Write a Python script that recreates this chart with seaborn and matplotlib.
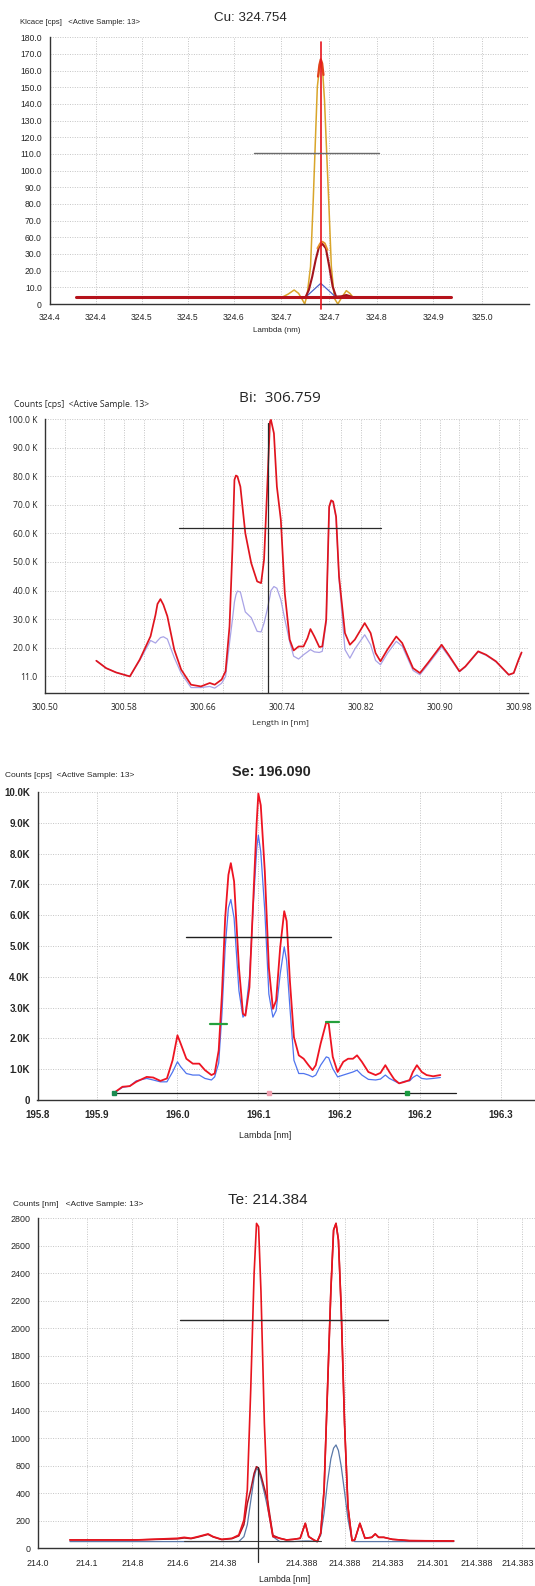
import numpy as np
import pandas as pd
import seaborn as sns
import matplotlib.pyplot as plt
from matplotlib.ticker import FixedLocator, FixedFormatter, MultipleLocator
from matplotlib.transforms import ScaledTranslation

# ---------------- Cu: 324.754 (x in tick-slot units, y in axis units) ----------------
cu_tick_pos = [0, 1, 2, 3, 4, 5.03, 6.07, 7.1, 8.33, 9.4]
cu_tick_labels = ['324.4', '324.4', '324.5', '324.5', '324.6', '324.7', '324.7', '324.8', '324.9', '325.0']
cu_minor_pos = [0.26, 1.52, 2.48, 3.48, 4.44, 5.52, 6.7, 7.7, 8.85, 9.89]
cu_ytick_pos = [0, 10, 20, 30, 40, 50, 60, 70, 80, 90, 100, 110, 120, 130, 140, 150, 160]
cu_ytick_labels = ['0', '10.0', '20.0', '30.0', '60.0', '70.0', '80.0', '90.0', '100.0',
                   '110.0', '120.0', '130.0', '140.0', '150.0', '160.0', '170.0', '180.0']

cu_gold_x = [5.074, 5.185, 5.311, 5.407, 5.481, 5.541, 5.593, 5.667, 5.726, 5.778, 5.815,
             5.852, 5.889, 5.933, 5.970, 6.015, 6.067, 6.119, 6.185, 6.259, 6.333, 6.444, 6.519, 6.593]
cu_gold_y = [4.4, 6.0, 8.4, 6.4, 3.0, 0.0, 5.4, 22.4, 62.4, 102.4, 130.4,
             139.4, 144.4, 138.4, 122.4, 92.4, 58.4, 22.4, 3.4, 0.0, 3.4, 8.0, 6.4, 4.0]
cu_dark_x = [5.556, 5.630, 5.704, 5.778, 5.852, 5.926, 6.0, 6.074, 6.148, 6.222, 6.333, 6.444, 6.556]
cu_dark_y = [4.0, 8.4, 16.4, 26.4, 34.4, 36.0, 33.4, 22.4, 10.4, 4.4, 4.6, 5.4, 4.4]
cu_blue_x = [5.556, 5.889, 6.222]
cu_blue_y = [4.0, 12.4, 4.0]
cu_tip_x = [5.830, 5.859, 5.889, 5.919, 5.948]
cu_tip_y = [136.4, 143.4, 146.8, 144.4, 137.4]
cu_cap_x = [5.815, 5.874, 5.926, 5.978, 6.037]
cu_cap_y = [33.4, 36.4, 37.4, 36.4, 32.4]
cu_base = [0.57, 8.72, 4.0]
cu_marker = [5.889, 157.0]
cu_level = [4.44, 7.15, 90.8]

# ---------------- Bi: 306.759 (nm, K counts) ----------------
bi_x = [300.552, 300.562, 300.572, 300.586, 300.596, 300.607, 300.612, 300.614, 300.617, 300.620,
        300.624, 300.631, 300.638, 300.648, 300.658, 300.667, 300.672, 300.679, 300.683, 300.687,
        300.690, 300.692, 300.6935, 300.695, 300.698, 300.703, 300.709, 300.715, 300.719, 300.722,
        300.725, 300.728, 300.729, 300.732, 300.735, 300.739, 300.743, 300.748, 300.752, 300.757,
        300.762, 300.766, 300.769, 300.773, 300.778, 300.781, 300.785, 300.788, 300.790, 300.792,
        300.795, 300.798, 300.804, 300.809, 300.814, 300.824, 300.830, 300.835, 300.840, 300.847,
        300.856, 300.862, 300.873, 300.880, 300.888, 300.902, 300.909, 300.920, 300.926, 300.939,
        300.947, 300.957, 300.970, 300.975, 300.980, 300.983]
bi_red = [15.4, 12.8, 11.3, 9.9, 15.8, 24.0, 31.5, 35.3, 37.0, 35.0,
          31.0, 19.3, 12.3, 7.0, 6.4, 7.6, 7.0, 8.8, 11.7, 27.4,
          55.0, 78.8, 80.3, 80.0, 76.4, 60.1, 49.6, 43.2, 42.6, 50.8,
          74.2, 99.2, 99.8, 95.1, 76.4, 64.8, 39.1, 22.8, 19.0, 20.4,
          20.4, 23.3, 26.5, 23.9, 20.2, 20.4, 29.8, 69.4, 71.6, 71.2,
          65.9, 44.9, 25.1, 21.0, 22.8, 28.6, 25.1, 18.1, 15.2, 19.3,
          23.9, 21.6, 12.8, 11.1, 14.6, 21.0, 17.5, 11.7, 13.4, 18.7,
          17.5, 15.2, 10.5, 11.1, 15.8, 18.3]
bi_blue = [15.4, 12.8, 11.3, 9.9, 15.5, 22.5, 21.6, 22.4, 23.5, 23.8,
           23.0, 16.5, 11.0, 6.0, 6.0, 6.4, 5.8, 7.5, 9.9, 21.6,
           30.0, 36.0, 38.5, 39.8, 39.5, 32.5, 30.5, 25.7, 25.5, 28.6,
           33.0, 38.0, 40.0, 41.4, 40.8, 36.8, 30.0, 22.0, 17.0, 16.0,
           17.5, 18.5, 19.3, 18.5, 18.3, 18.7, 29.0, 69.0, 71.3, 71.0,
           65.5, 44.0, 19.3, 16.3, 19.5, 24.5, 21.0, 15.5, 14.0, 18.0,
           22.2, 20.5, 12.0, 10.5, 14.0, 20.3, 17.0, 11.5, 13.2, 18.5,
           17.3, 15.0, 10.4, 11.0, 15.6, 18.2]
bi_xticks = [300.50, 300.58, 300.66, 300.74, 300.82, 300.90, 300.98]
bi_yticks = [10, 20, 30, 40, 50, 60, 70, 80, 90, 100]
bi_ytick_labels = ['11.0', '20.0 K', '30.0 K', '40.0 K', '50.0 K', '60.0 K', '70.0 K',
                   '80.0 K', '90.0 K', '100.0 K']
bi_marker_x = 300.726
bi_level = [300.636, 300.841, 61.9]

# ---------------- Se: 196.090 (nm, K counts) ----------------
se_x = [195.922, 195.932, 195.941, 195.949, 195.962, 195.970, 195.979, 195.987, 195.994, 196.000,
        196.004, 196.011, 196.019, 196.027, 196.034, 196.042, 196.046, 196.051, 196.055, 196.059,
        196.063, 196.066, 196.070, 196.076, 196.081, 196.084, 196.089, 196.094, 196.098, 196.100,
        196.103, 196.108, 196.113, 196.118, 196.122, 196.127, 196.132, 196.135, 196.139, 196.144,
        196.150, 196.156, 196.162, 196.167, 196.171, 196.177, 196.184, 196.187, 196.192, 196.198,
        196.205, 196.211, 196.217, 196.222, 196.228, 196.236, 196.245, 196.251, 196.257, 196.262,
        196.268, 196.274, 196.281, 196.287, 196.291, 196.296, 196.302, 196.308, 196.316, 196.325]
se_red = [0.24, 0.43, 0.45, 0.59, 0.75, 0.73, 0.62, 0.70, 1.29, 2.10,
          1.83, 1.34, 1.18, 1.18, 0.97, 0.81, 0.86, 1.61, 3.44, 5.91,
          7.31, 7.69, 7.10, 4.30, 2.80, 2.74, 3.66, 6.67, 9.03, 9.95,
          9.57, 7.42, 4.30, 2.96, 3.23, 4.95, 6.13, 5.81, 3.87, 2.04,
          1.45, 1.34, 1.13, 0.97, 1.13, 1.83, 2.53, 2.47, 1.40, 0.91,
          1.24, 1.34, 1.34, 1.45, 1.24, 0.91, 0.81, 0.88, 1.13, 0.91,
          0.67, 0.54, 0.59, 0.65, 0.91, 1.13, 0.91, 0.81, 0.77, 0.81]
se_blue = [0.24, 0.41, 0.45, 0.62, 0.70, 0.65, 0.59, 0.59, 0.91, 1.24,
           1.08, 0.86, 0.81, 0.81, 0.70, 0.65, 0.75, 1.20, 2.80, 4.95,
           6.24, 6.51, 5.91, 3.55, 2.69, 2.80, 3.98, 6.45, 8.17, 8.60,
           8.06, 6.13, 3.44, 2.69, 2.90, 4.09, 4.97, 4.52, 3.01, 1.29,
           0.86, 0.86, 0.81, 0.75, 0.81, 1.13, 1.40, 1.37, 1.02, 0.75,
           0.81, 0.86, 0.91, 0.97, 0.81, 0.67, 0.65, 0.68, 0.81, 0.70,
           0.62, 0.54, 0.61, 0.62, 0.73, 0.81, 0.70, 0.68, 0.70, 0.73]
se_xticks = [195.827, 195.9, 196.0, 196.1, 196.2, 196.3, 196.4]
se_xtick_labels = ['195.8', '195.9', '196.0', '196.1', '196.2', '196.2', '196.3']
se_yticks = [0, 1, 2, 3, 4, 5, 6, 7, 8, 9, 10]
se_ytick_labels = ['0', '1.0K', '2.0K', '3.0K', '4.0K', '5.0K', '6.0K', '7.0K', '8.0K', '9.0K', '10.0K']
se_base = [195.922, 196.344, 0.24]
se_level = [196.011, 196.190, 5.30]
se_green = [[196.040, 196.061, 2.47], [196.184, 196.200, 2.53]]
se_dots = [[195.922, 0.24, '#1a8a50'], [196.284, 0.24, '#1a9a40'], [196.113, 0.24, '#f0a0b0']]

# ---------------- Te: 214.384 (x in tick-slot units, y in axis units) ----------------
te_x = [0.699, 1.414, 2.165, 3.068, 3.218, 3.368, 3.519, 3.744, 3.857, 4.045,
        4.271, 4.421, 4.534, 4.609, 4.684, 4.759, 4.812, 4.857, 4.910, 4.985,
        5.060, 5.173, 5.323, 5.474, 5.624, 5.774, 5.887, 5.962, 6.075, 6.150,
        6.226, 6.301, 6.376, 6.451, 6.511, 6.564, 6.617, 6.677, 6.752, 6.827,
        6.917, 6.977, 7.090, 7.203, 7.353, 7.429, 7.504, 7.617, 7.805, 8.180, 9.158]
te_red = [71, 71, 71, 85, 93, 85, 99, 122, 99, 76,
          85, 113, 240, 495, 1343, 2333, 2757, 2729, 2178, 1061,
          354, 99, 85, 71, 76, 85, 212, 99, 71, 57,
          127, 495, 1343, 2192, 2701, 2757, 2616, 2050, 1061, 354,
          65, 71, 212, 85, 93, 122, 93, 93, 76, 65, 62]
te_dark = [71, 71, 71, 80, 88, 82, 95, 118, 96, 74,
           82, 105, 200, 380, 495, 636, 693, 680, 620, 510,
           396, 110, 85, 71, 76, 85, 212, 99, 71, 57,
           127, 495, 1343, 2192, 2701, 2757, 2616, 2050, 1061, 354,
           65, 71, 212, 85, 93, 122, 93, 93, 76, 65, 62]
te_blue = [57, 57, 57, 57, 57, 57, 57, 57, 57, 57,
           57, 57, 99, 200, 400, 600, 680, 660, 590, 470,
           340, 99, 57, 57, 57, 60, 62, 62, 60, 57,
           110, 300, 560, 760, 850, 877, 830, 700, 480, 250,
           70, 57, 57, 57, 57, 57, 57, 57, 57, 57, 57]
te_tick_pos = [0, 1.075, 2.075, 3.068, 4.083, 5.812, 6.752, 7.707, 8.692, 9.669, 10.662]
te_tick_labels = ['214.0', '214.1', '214.8', '214.6', '214.38', '214.388', '214.388',
                  '214.383', '214.301', '214.388', '214.383']
te_ytick_pos = [0, 233, 467, 700, 933, 1167, 1400, 1633, 1867, 2100, 2333, 2567, 2800]
te_ytick_labels = ['0', '200', '400', '800', '1000', '1400', '1600', '1800', '2000',
                   '2200', '2400', '2600', '2800']
te_marker = [4.835, 693]
te_level = [3.12, 7.71, 1937]
te_base = [3.218, 6.226, 62]

# ---------------- figure ----------------
sns.set_style('white')
plt.rcParams['font.family'] = ['Liberation Sans', 'DejaVu Sans']

W, H = 535, 1586
fig = plt.figure(figsize=(W / 100, H / 100), dpi=100)


def px_axes(left, top, right, bottom):
    return fig.add_axes([left / W, 1 - bottom / H, (right - left) / W, (bottom - top) / H])


def px_text(x, y, s, **kw):
    fig.text(x / W, 1 - y / H, s, **kw)


def style_axes(ax, size, family=None, weight='normal'):
    for side in ['top', 'right']:
        ax.spines[side].set_visible(False)
    for side in ['left', 'bottom']:
        ax.spines[side].set_color('#333333')
        ax.spines[side].set_linewidth(1.0)
    ax.tick_params(which='major', direction='out', length=3.5, width=0.8, color='#333333',
                   labelsize=size, pad=2)
    ax.tick_params(which='minor', direction='out', length=2.5, width=0.7, color='#333333')
    for lab in ax.get_xticklabels() + ax.get_yticklabels():
        lab.set_fontweight(weight)
        if family:
            lab.set_family(family)
    ax.set_xlabel('')
    ax.set_ylabel('')


def line(ax, x, y, color, lw, z=2):
    df = pd.DataFrame({'x': x, 'y': y})
    sns.lineplot(data=df, x='x', y='y', ax=ax, color=color, linewidth=lw, zorder=z)


grid_kw = dict(color='#c4c4c4', linestyle=(0, (1, 1.5)), linewidth=0.7)

# ---- Cu panel ----
ax1 = px_axes(49.5, 37.3, 529, 304)
line(ax1, cu_gold_x, cu_gold_y, '#d9a52a', 1.1, 2)
line(ax1, cu_blue_x, cu_blue_y, '#4a62c8', 0.9, 3)
line(ax1, cu_dark_x, cu_dark_y, '#a3141c', 1.5, 4)
ax1.plot([cu_base[0], cu_base[1]], [cu_base[2], cu_base[2]], color='#b5121b', lw=2.2, zorder=5)
line(ax1, cu_tip_x, cu_tip_y, '#e2401a', 1.6, 6)
line(ax1, cu_cap_x, cu_cap_y, '#e8902a', 1.3, 6)
ax1.plot([cu_marker[0], cu_marker[0]], [-3, cu_marker[1]], color='#e8141e', lw=1.2,
         zorder=7, clip_on=False)
ax1.plot([cu_level[0], cu_level[1]], [cu_level[2], cu_level[2]], color='#6a6a6a', lw=1.0, zorder=7)
ax1.set_xlim(0, 10.41)
ax1.set_ylim(0, 160)
ax1.xaxis.set_major_locator(FixedLocator(cu_tick_pos))
ax1.xaxis.set_major_formatter(FixedFormatter(cu_tick_labels))
ax1.xaxis.set_minor_locator(FixedLocator(cu_minor_pos))
ax1.yaxis.set_major_locator(FixedLocator(cu_ytick_pos))
ax1.yaxis.set_major_formatter(FixedFormatter(cu_ytick_labels))
ax1.grid(True, which='major', **grid_kw)
style_axes(ax1, 6.2)
ax1.tick_params(axis='x', pad=3)
px_text(250, 18, 'Cu: 324.754', fontsize=9.6, ha='center', va='center')
px_text(20.5, 23, 'Klcace [cps]   <Active Sample: 13>', fontsize=5.6, ha='left', va='center')
px_text(277, 330, 'Lambda (nm)', fontsize=5.8, ha='center', va='center')

# ---- Bi panel ----
ax2 = px_axes(45, 419.3, 528, 692.7)
line(ax2, bi_x, bi_blue, '#a9a3e6', 0.9, 2)
line(ax2, bi_x, bi_red, '#e0141e', 1.25, 3)
ax2.axvline(bi_marker_x, ymin=0, ymax=0.985, color='#2a2a2a', lw=0.9, zorder=4)
ax2.plot([bi_level[0], bi_level[1]], [bi_level[2], bi_level[2]], color='#2a2a2a', lw=0.9, zorder=4)
ax2.set_xlim(300.50, 300.9895)
ax2.set_ylim(4.2, 100)
ax2.xaxis.set_major_locator(FixedLocator(bi_xticks))
ax2.xaxis.set_major_formatter(FixedFormatter(['%.2f' % v for v in bi_xticks]))
ax2.xaxis.set_minor_locator(MultipleLocator(0.04))
ax2.yaxis.set_major_locator(FixedLocator(bi_yticks))
ax2.yaxis.set_major_formatter(FixedFormatter(bi_ytick_labels))
ax2.grid(True, which='both', axis='x', **grid_kw)
ax2.grid(True, which='major', axis='y', **grid_kw)
style_axes(ax2, 6.2, family='Open Sans')
ax2.tick_params(axis='x', pad=4)
px_text(280, 399, 'Bi:  306.759', fontsize=11, ha='center', va='center', family='Open Sans')
px_text(13.6, 404.5, 'Counts [cps]  <Active Sample. 13>', fontsize=6.2, ha='left', va='center',
        family='Open Sans')
px_text(280, 723.5, 'Length in [nm]', fontsize=6.0, ha='center', va='center', family='Open Sans')

# ---- Se panel ----
ax3 = px_axes(37.5, 792, 535, 1100)
line(ax3, se_x, se_blue, '#4f74ee', 0.9, 2)
line(ax3, se_x, se_red, '#ee1422', 1.3, 3)
ax3.plot([se_base[0], se_base[1]], [se_base[2], se_base[2]], color='#1e1e1e', lw=0.9, zorder=4)
ax3.plot([se_level[0], se_level[1]], [se_level[2], se_level[2]], color='#1e1e1e', lw=1.0, zorder=4)
for g in se_green:
    ax3.plot([g[0], g[1]], [g[2], g[2]], color='#25a03c', lw=1.6, zorder=5)
for d in se_dots:
    ax3.plot([d[0]], [d[1]], marker='s', ms=2.5, color=d[2], zorder=6, ls='none')
ax3.set_xlim(195.827, 196.442)
ax3.set_ylim(0, 10)
ax3.xaxis.set_major_locator(FixedLocator(se_xticks))
ax3.xaxis.set_major_formatter(FixedFormatter(se_xtick_labels))
ax3.yaxis.set_major_locator(FixedLocator(se_yticks))
ax3.yaxis.set_major_formatter(FixedFormatter(se_ytick_labels))
ax3.yaxis.set_minor_locator(MultipleLocator(0.2))
ax3.grid(True, which='major', **grid_kw)
style_axes(ax3, 7.0, weight='bold')
ax3.tick_params(axis='x', pad=4)
px_text(271, 772, 'Se: 196.090', fontsize=10.4, ha='center', va='center', fontweight='bold')
px_text(5, 775.5, 'Counts [cps]  <Active Sample: 13>', fontsize=6.0, ha='left', va='center')
px_text(265, 1135, 'Lambda [nm]', fontsize=6.4, ha='center', va='center')

# ---- Te panel ----
ax4 = px_axes(38.2, 1218.3, 535, 1548.3)
line(ax4, te_x, te_blue, '#5a78a8', 0.9, 2)
line(ax4, te_x, te_dark, '#a81424', 1.1, 3)
line(ax4, te_x, te_red, '#e8141e', 1.2, 4)
ax4.plot([te_base[0], te_base[1]], [te_base[2], te_base[2]], color='#3a3a3a', lw=0.8, zorder=5)
ax4.plot([te_marker[0], te_marker[0]], [-120, te_marker[1]], color='#2a2a2a', lw=0.9,
         zorder=5, clip_on=False)
ax4.plot([te_level[0], te_level[1]], [te_level[2], te_level[2]], color='#2a2a2a', lw=1.0, zorder=5)
ax4.set_xlim(0, 10.95)
ax4.set_ylim(0, 2800)
ax4.xaxis.set_major_locator(FixedLocator(te_tick_pos))
ax4.xaxis.set_major_formatter(FixedFormatter(te_tick_labels))
ax4.yaxis.set_major_locator(FixedLocator(te_ytick_pos))
ax4.yaxis.set_major_formatter(FixedFormatter(te_ytick_labels))
ax4.yaxis.set_minor_locator(MultipleLocator(2800 / 24))
ax4.grid(True, which='major', **grid_kw)
style_axes(ax4, 6.4)
ax4.tick_params(axis='x', pad=4)
# the last tick label sits at the right edge; nudge it inward so it stays whole
last_lab = ax4.get_xticklabels()[-1]
last_lab.set_horizontalalignment('right')
last_lab.set_transform(last_lab.get_transform() + ScaledTranslation(12 / 100, 0, fig.dpi_scale_trans))
px_text(268, 1199.5, 'Te: 214.384', fontsize=11, ha='center', va='center',
        family=['Liberation Sans Narrow', 'Liberation Sans'])
px_text(13, 1204, 'Counts [nm]   <Active Sample: 13>', fontsize=6.0, ha='left', va='center')
px_text(285, 1579, 'Lambda [nm]', fontsize=6.3, ha='center', va='center')

fig.savefig('out.png', dpi=100, facecolor='white')
